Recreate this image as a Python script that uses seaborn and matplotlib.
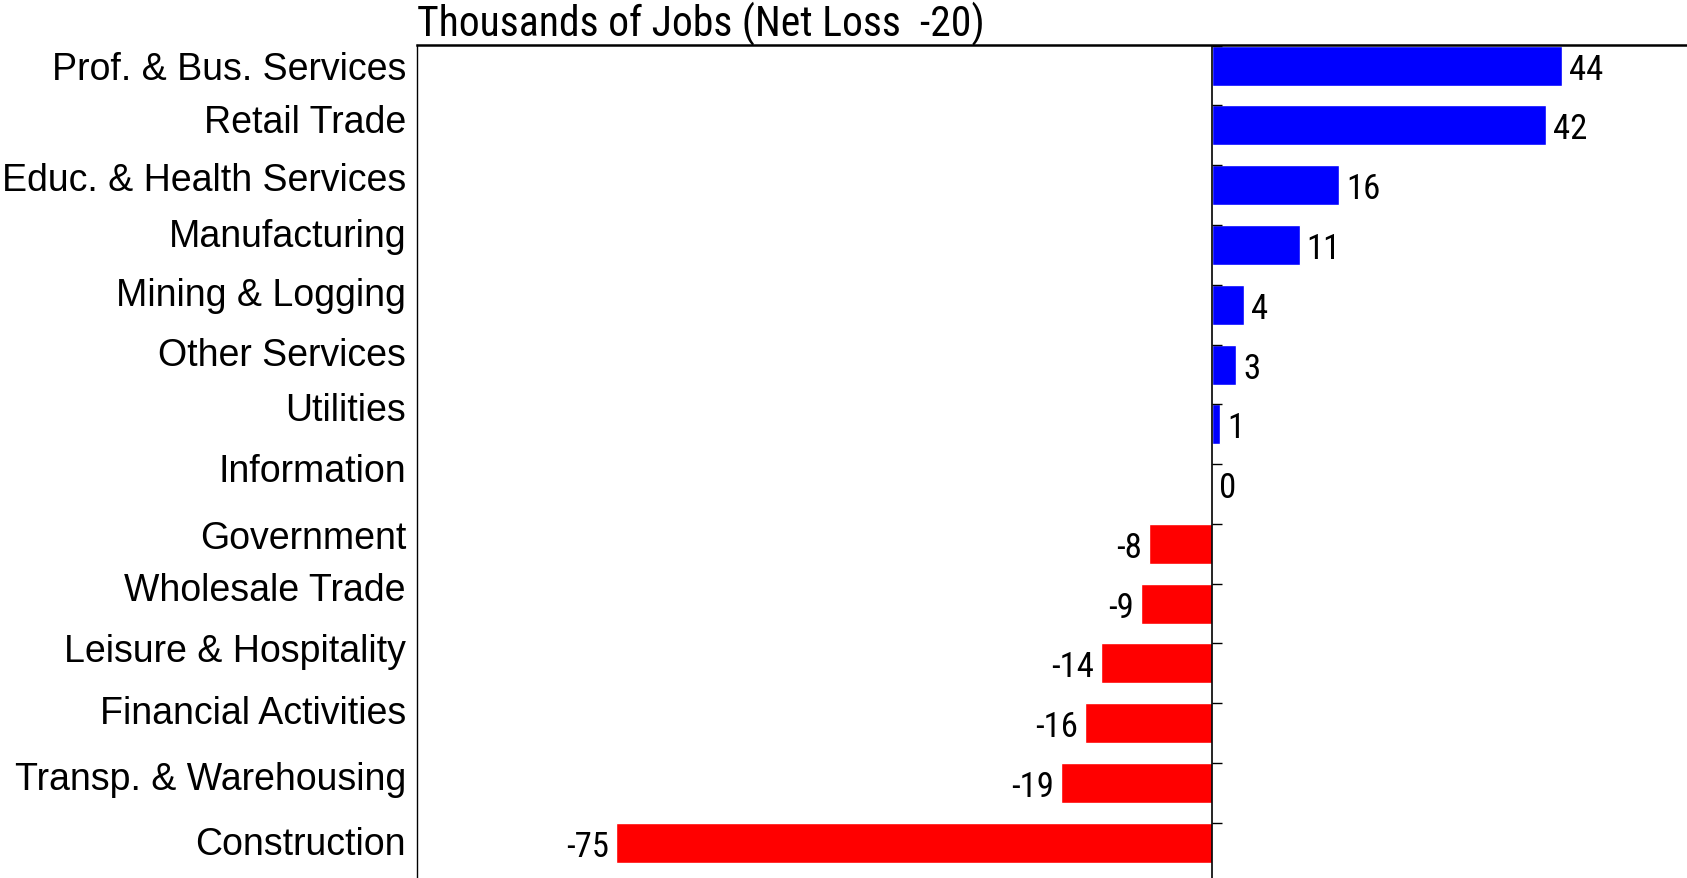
import numpy as np
import pandas as pd
import matplotlib
matplotlib.use('Agg')
from matplotlib import pyplot as plt
from matplotlib import font_manager
import seaborn as sns

# Net change in jobs by sector, thousands
sectors = ['Prof. & Bus. Services', 'Retail Trade', 'Educ. & Health Services',
           'Manufacturing', 'Mining & Logging', 'Other Services', 'Utilities',
           'Information', 'Government', 'Wholesale Trade',
           'Leisure & Hospitality', 'Financial Activities',
           'Transp. & Warehousing', 'Construction']
jobs = [44, 42, 16, 11, 4, 3, 1, 0, -8, -9, -14, -16, -19, -75]
net_change = -20
sign_colors = {'gain': '#0000ff', 'loss': '#ff0000'}
# the sector names in the original sit a little above their bars (pixels)
label_nudge = [-3, 3, 5, 9, 10, 10, 14, 13, 6, 14, 12, 10, 4, -1]

sns.set_style('white')
plt.rcParams['font.family'] = ['Liberation Sans', 'DejaVu Sans']
plt.rcParams['text.color'] = 'black'

# the numbers and the title use a condensed face, if one is installed
installed = {f.name for f in font_manager.fontManager.ttflist}
narrow = [name for name in ['Liberation Sans Narrow', 'Arial Narrow',
                            'DejaVu Sans Condensed', 'Roboto Condensed']
          if name in installed] + ['Liberation Sans', 'DejaVu Sans']

df = pd.DataFrame({'sector': sectors, 'jobs': jobs})
df['sign'] = np.where(df['jobs'] >= 0, 'gain', 'loss')

fig = plt.figure(figsize=(16.87, 8.79), dpi=100)
ax = fig.add_axes([417 / 1687, 0.0, 1 - 417 / 1687, 1 - 46 / 879])

sns.barplot(data=df, x='jobs', y='sector', hue='sign', palette=sign_colors,
            orient='h', width=0.67, dodge=False, saturation=1, legend=False,
            ax=ax)

for container in ax.containers:
    texts = ax.bar_label(container, fmt='%g', padding=5, fontsize=25,
                         family=narrow, color='black')
    for t in texts:
        x_off, y_off = t.xyann
        t.xyann = (x_off, y_off - 2.5)

ax.set_xlim(-100, 59.7)
ax.set_ylim(len(sectors) - 1 + 0.59, -0.346)
ax.axvline(0, color='black', lw=1.2)
# small ticks on the zero line at the top edge of each bar slot
ax.hlines(np.arange(len(sectors)) - 0.335, 0, 1.2, color='black', lw=1)

ax.set_xticks([])
ax.set_yticks([])
ax.set_xlabel('')
ax.set_ylabel('')
for i, (name, nudge) in enumerate(zip(sectors, label_nudge)):
    ax.annotate(name, xy=(0, i), xycoords=('axes fraction', 'data'),
                xytext=(-11, nudge), textcoords='offset pixels',
                ha='right', va='center', fontsize=27, color='black')

for side in ['right', 'bottom']:
    ax.spines[side].set_visible(False)
ax.spines['top'].set_linewidth(1.8)
ax.spines['left'].set_linewidth(1)
for side in ['top', 'left']:
    ax.spines[side].set_color('black')

ax.set_title(f'Thousands of Jobs (Net Loss  {net_change})', loc='left',
             fontsize=30, family=narrow, pad=-1.5, color='black')

fig.savefig('out.png', dpi=100)
